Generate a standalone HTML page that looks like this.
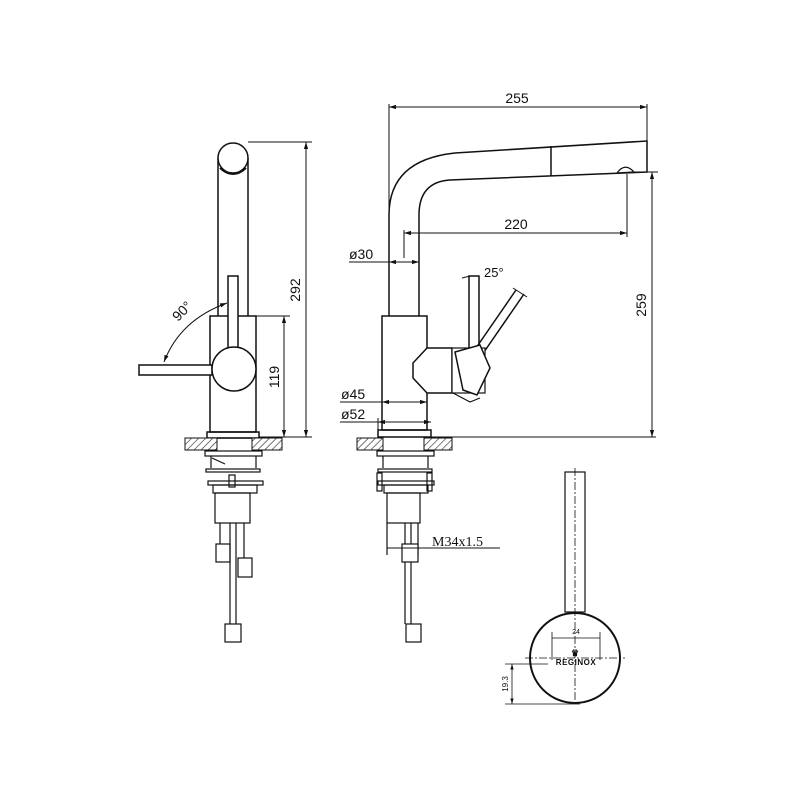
<!DOCTYPE html>
<html><head><meta charset="utf-8"><style>
html,body{margin:0;padding:0;background:#fff}
svg{display:block}
text{font-family:"Liberation Sans",sans-serif;fill:#111}
</style></head><body>
<svg width="800" height="800" viewBox="0 0 800 800" xmlns="http://www.w3.org/2000/svg">
<defs>
<pattern id="h" width="5" height="5" patternUnits="userSpaceOnUse" patternTransform="rotate(45)">
<rect width="5" height="5" fill="#fff"/><line x1="0" y1="0" x2="0" y2="5" stroke="#222" stroke-width="1.2"/>
</pattern>
<marker id="a" viewBox="0 0 10 10" refX="10" refY="5" markerWidth="7" markerHeight="7" orient="auto-start-reverse"><path d="M0,2 L10,5 L0,8z" fill="#111"/></marker>
</defs>
<g fill="none" stroke="#111" stroke-width="1.5">
<!-- LEFT VIEW -->
<line x1="218" y1="158" x2="218" y2="316"/><line x1="248" y1="158" x2="248" y2="316"/>
<circle cx="233" cy="158" r="15" fill="#fff"/>
<path d="M220,168 Q233,180 246,168" stroke-width="2"/>
<rect x="210" y="316" width="46" height="116" fill="#fff"/>
<rect x="228" y="276" width="10" height="72" fill="#fff"/>
<rect x="139" y="365" width="73" height="10" fill="#fff"/>
<circle cx="234" cy="369" r="22" fill="#fff"/>
<path d="M227,303 Q180,320 164,362" stroke-width="1" marker-start="url(#a)" marker-end="url(#a)"/>
<rect x="207" y="432" width="52" height="6"/>
<g stroke-width="1">
<line x1="248" y1="142" x2="312" y2="142"/><line x1="306" y1="142" x2="306" y2="437" marker-start="url(#a)" marker-end="url(#a)"/>
<line x1="256" y1="316" x2="290" y2="316"/><line x1="284" y1="316" x2="284" y2="437" marker-start="url(#a)" marker-end="url(#a)"/>
<line x1="259" y1="437" x2="312" y2="437"/>
</g>
<rect x="185" y="438" width="32" height="12" fill="url(#h)" stroke-width="1"/>
<rect x="252" y="438" width="30" height="12" fill="url(#h)" stroke-width="1"/>
<g stroke-width="1.2">
<line x1="217" y1="438" x2="252" y2="438"/>
<rect x="205" y="451" width="57" height="5"/>
<path d="M211,456 L211,468 M256,456 L256,468 M212,458 L225,464"/>
<rect x="206" y="469" width="54" height="3"/>
<rect x="208" y="481" width="55" height="4"/>
<rect x="213" y="485" width="44" height="8"/>
<rect x="229" y="475" width="6" height="12"/>
<rect x="215" y="493" width="35" height="30"/>
<path d="M220,523 L220,544 M230,523 L230,624 M236,523 L236,624 M244,523 L244,558"/>
<rect x="216" y="544" width="14" height="18"/>
<rect x="238" y="558" width="14" height="19"/>
<rect x="225" y="624" width="16" height="18"/>
</g>
<!-- RIGHT VIEW -->
<path d="M389,316 L389,215 Q389,160 455,153 L647,141 L647,172 L450,180 Q419,182 419,215 L419,316" fill="#fff"/>
<line x1="551" y1="146" x2="551" y2="176"/>
<path d="M617,173 Q625,162 634,172 Z" stroke-width="1.2"/>
<rect x="382" y="316" width="45" height="114" fill="#fff"/>
<path d="M427,348 L413,363 L413,378 L427,393 L452,393 L452,348 Z" fill="#fff"/>
<rect x="469" y="276" width="10" height="72" fill="#fff"/>
<line x1="476" y1="348" x2="516" y2="290"/><line x1="484" y1="352" x2="524" y2="294"/>
<line x1="513" y1="288" x2="527" y2="297" stroke-width="1"/>
<line x1="462" y1="278" x2="470" y2="276" stroke-width="1"/>
<rect x="452" y="348" width="33" height="45" fill="#fff" stroke-width="1.2"/>
<path d="M455,352 L480,345 L490,368 L477,395 L463,390 Z" fill="#fff"/>
<path d="M453,393 L470,402 L480,398" stroke-width="1.2"/>
<rect x="378" y="430" width="53" height="7"/>
<g stroke-width="1">
<line x1="389" y1="104" x2="389" y2="316"/><line x1="647" y1="104" x2="647" y2="141"/>
<line x1="389" y1="107" x2="647" y2="107" marker-start="url(#a)" marker-end="url(#a)"/>
<line x1="404" y1="230" x2="404" y2="258"/><line x1="627" y1="174" x2="627" y2="237"/>
<line x1="404" y1="233" x2="627" y2="233" marker-start="url(#a)" marker-end="url(#a)"/>
<line x1="349" y1="262" x2="419" y2="262"/>
<line x1="389" y1="262" x2="419" y2="262" marker-start="url(#a)" marker-end="url(#a)"/>
<line x1="340" y1="402" x2="427" y2="402" marker-end="url(#a)"/><line x1="382" y1="402" x2="427" y2="402" marker-start="url(#a)"/>
<line x1="340" y1="422" x2="431" y2="422" marker-end="url(#a)"/><line x1="378" y1="422" x2="431" y2="422" marker-start="url(#a)"/>
<line x1="378" y1="418" x2="378" y2="430"/>
<line x1="634" y1="172" x2="658" y2="172"/>
<line x1="652" y1="172" x2="652" y2="437" marker-start="url(#a)" marker-end="url(#a)"/>
<line x1="431" y1="437" x2="656" y2="437"/>
</g>
<rect x="357" y="438" width="26" height="12" fill="url(#h)" stroke-width="1"/>
<rect x="424" y="438" width="28" height="12" fill="url(#h)" stroke-width="1"/>
<g stroke-width="1.2">
<rect x="377" y="451" width="57" height="5"/>
<path d="M383,456 L383,468 M428,456 L428,468"/>
<rect x="378" y="469" width="54" height="3"/>
<rect x="378" y="481" width="56" height="4"/>
<rect x="384" y="485" width="44" height="8"/>
<rect x="377" y="473" width="5" height="18"/><rect x="427" y="473" width="5" height="18"/>
<rect x="387" y="493" width="33" height="30"/>
<path d="M387,523 L387,555 M405,523 L405,624 M411,523 L411,624 M418,523 L418,555"/>
<rect x="402" y="544" width="16" height="18" fill="#fff"/>
<rect x="406" y="624" width="15" height="18"/>
<line x1="387" y1="548" x2="500" y2="548" stroke-width="1"/>
</g>
<!-- LEVER DETAIL -->
<rect x="565" y="472" width="20" height="140" stroke-width="1.2"/>
<circle cx="575" cy="658" r="45" fill="#fff" stroke-width="2"/>
<g stroke-width="0.8" stroke-dasharray="8,2,2,2">
<line x1="575" y1="468" x2="575" y2="705"/><line x1="525" y1="658" x2="625" y2="658"/>
</g>
<g stroke-width="0.8">
<path d="M552,632 L552,660 M600,632 L600,660 M552,638 L600,638"/>
<line x1="505" y1="664" x2="548" y2="664"/><line x1="505" y1="704" x2="580" y2="704"/>
<line x1="512" y1="664" x2="512" y2="704" marker-start="url(#a)" marker-end="url(#a)"/>
</g>
</g>
<text x="233" y="94" font-size="14" text-anchor="middle" transform="translate(0,0)" opacity="0"> </text>
<text x="178" y="322" font-size="14" transform="rotate(-45 178 322)">90°</text>
<text x="300" y="290" font-size="14" text-anchor="middle" transform="rotate(-90 300 290)">292</text>
<text x="279" y="377" font-size="14" text-anchor="middle" transform="rotate(-90 279 377)">119</text>
<text x="517" y="103" font-size="14" text-anchor="middle">255</text>
<text x="516" y="229" font-size="14" text-anchor="middle">220</text>
<text x="349" y="259" font-size="14">ø30</text>
<text x="484" y="277" font-size="13">25°</text>
<text x="341" y="399" font-size="14">ø45</text>
<text x="341" y="419" font-size="14">ø52</text>
<text x="646" y="305" font-size="14" text-anchor="middle" transform="rotate(-90 646 305)">259</text>
<text x="432" y="546" font-size="14" style="font-family:'Liberation Serif',serif">M34x1.5</text>
<text x="576" y="634" font-size="7" text-anchor="middle">24</text>
<text x="576" y="665" font-size="8" font-weight="bold" text-anchor="middle" letter-spacing="0.5">REGINOX</text>
<text x="575" y="656" font-size="9" font-weight="bold" text-anchor="middle">♛</text>
<text x="508" y="684" font-size="8" text-anchor="middle" transform="rotate(-90 508 684)">19.3</text>
</svg>
</body></html>
